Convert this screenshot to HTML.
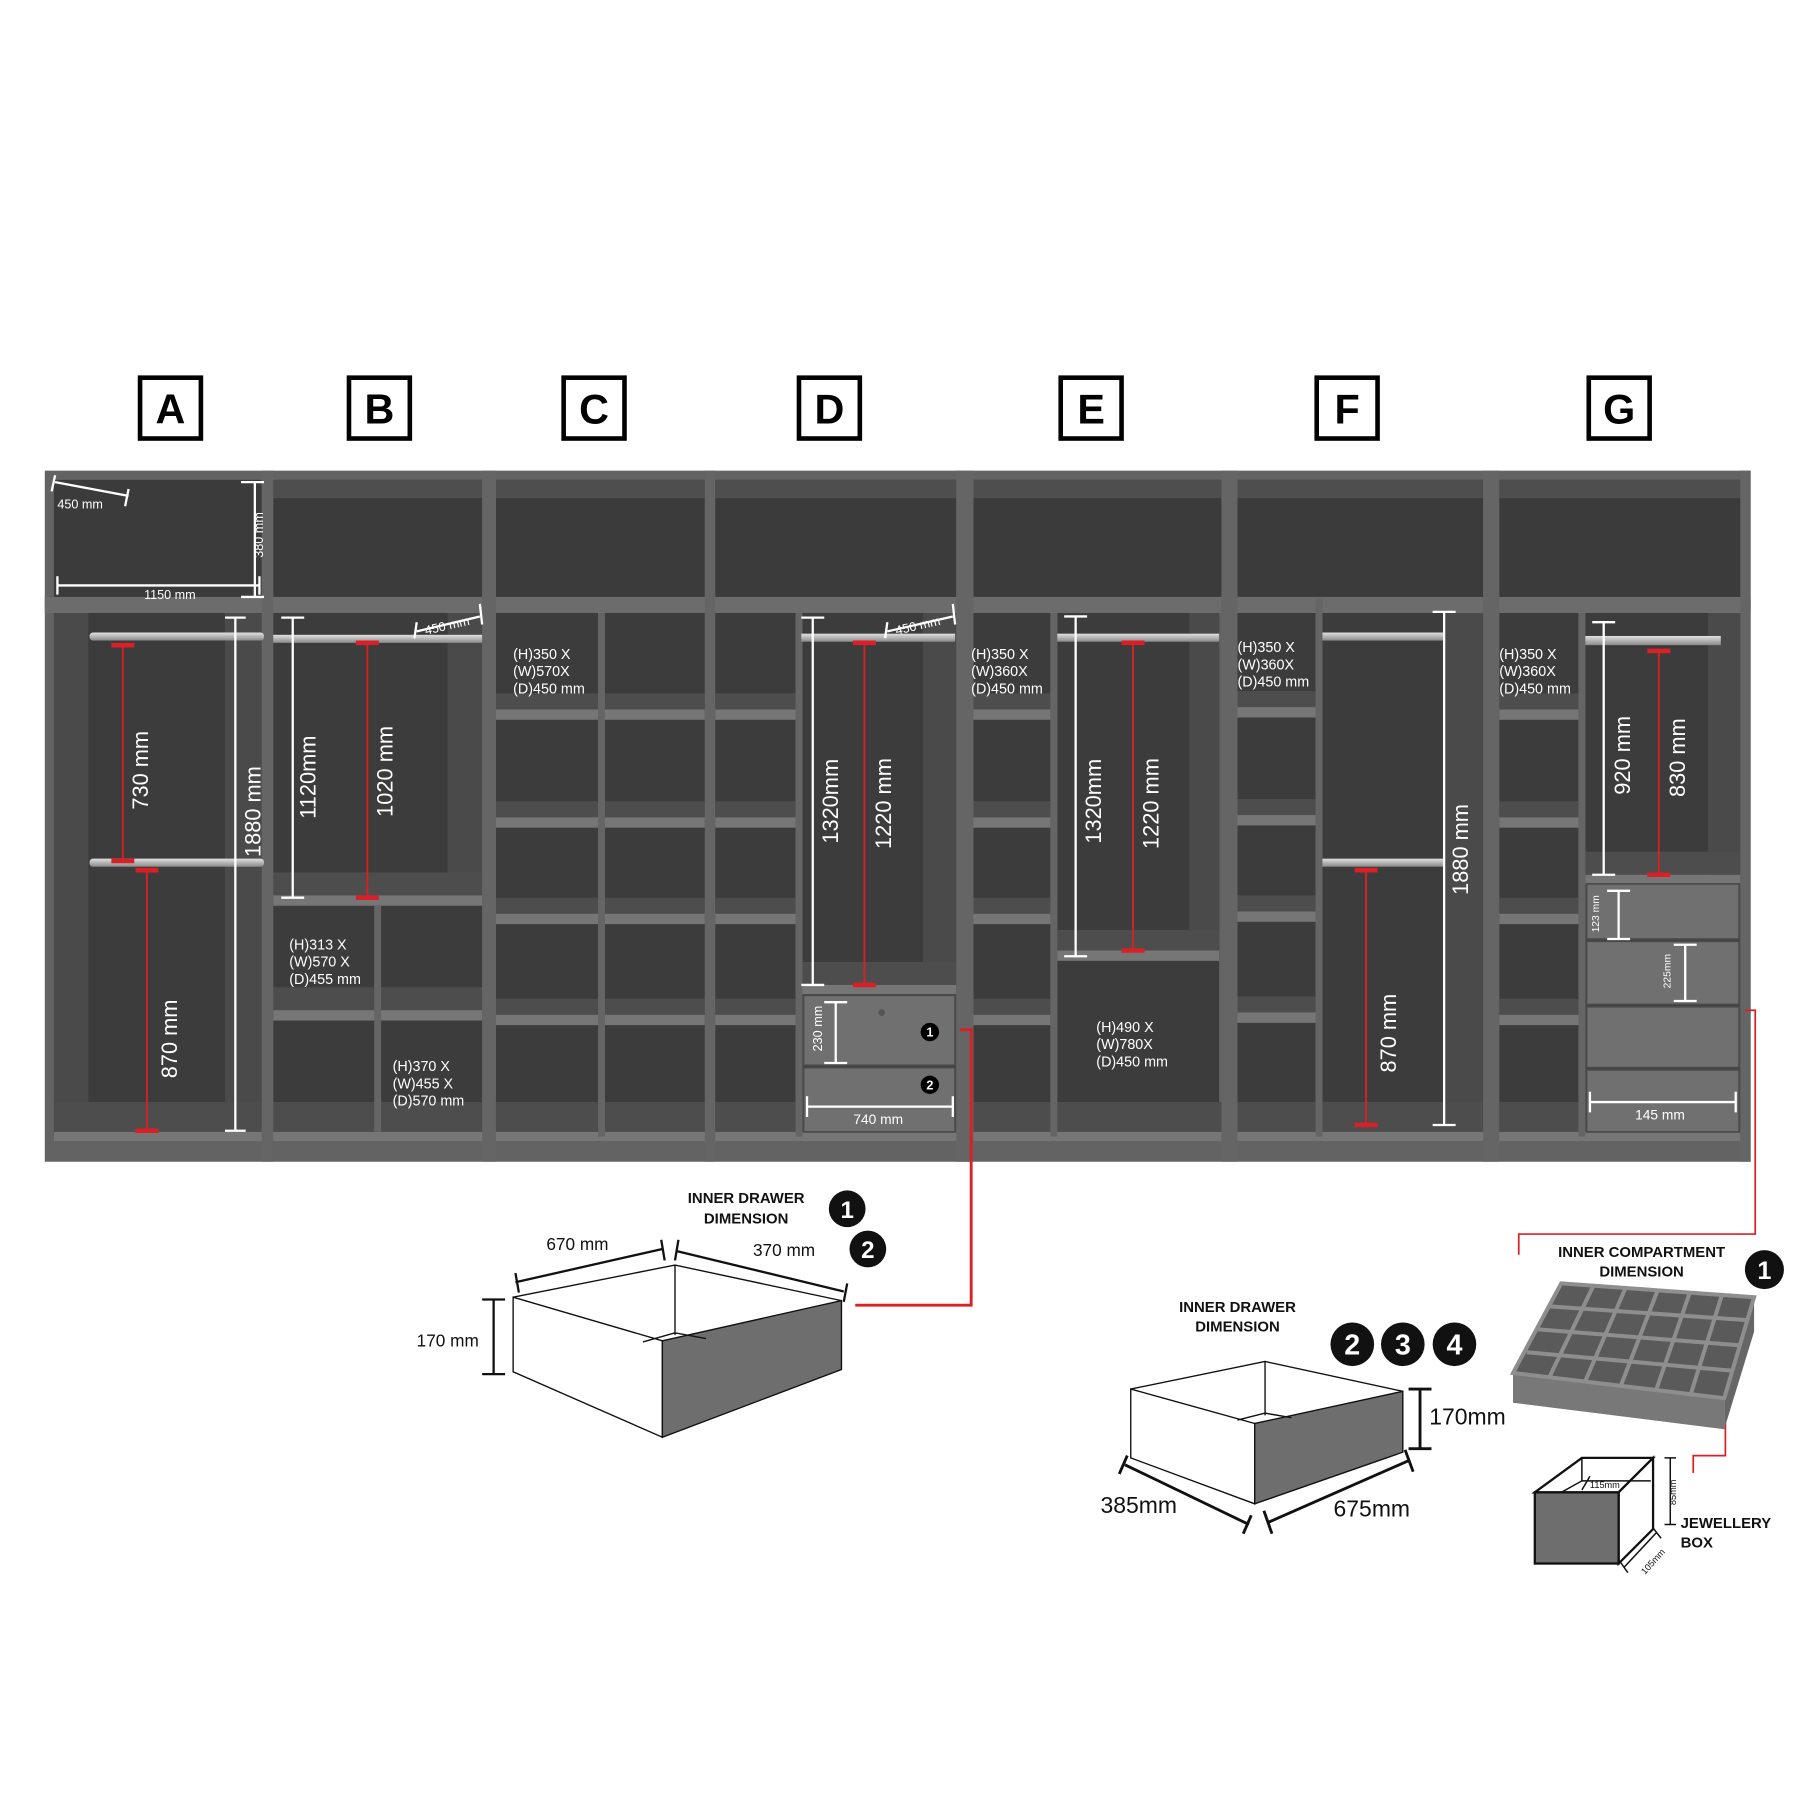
<!DOCTYPE html>
<html><head><meta charset="utf-8"><style>
html,body{margin:0;padding:0;background:#fff}
svg{display:block}
text{font-family:"Liberation Sans",sans-serif}
</style></head><body>
<svg width="1800" height="1800" viewBox="0 0 1568 1568" xmlns="http://www.w3.org/2000/svg">
<defs>
<linearGradient id="rail" x1="0" y1="0" x2="0" y2="1"><stop offset="0" stop-color="#e0e0e0"/><stop offset="1" stop-color="#8a8a8a"/></linearGradient>
</defs>
<rect width="1568" height="1568" fill="#fff"/>
<g fill="none" stroke="#000" stroke-width="4">
<rect x="122" y="329" width="53" height="53"/><rect x="304" y="329" width="53" height="53"/><rect x="491" y="329" width="53" height="53"/><rect x="696" y="329" width="53" height="53"/><rect x="924" y="329" width="53" height="53"/><rect x="1147" y="329" width="53" height="53"/><rect x="1384" y="329" width="53" height="53"/>
</g>
<g font-size="36" font-weight="bold" text-anchor="middle" fill="#000">
<text x="148.5" y="369">A</text><text x="330.5" y="369">B</text><text x="517.5" y="369">C</text><text x="722.5" y="369">D</text><text x="950.5" y="369">E</text><text x="1173.5" y="369">F</text><text x="1410.5" y="369">G</text>
</g>
<rect x="39" y="410" width="1486" height="602" fill="#636363"/>
<g fill="#3b3b3b">
<rect x="47" y="418" width="181" height="104"/><rect x="238" y="418" width="182" height="104"/><rect x="432" y="418" width="182" height="104"/><rect x="623" y="418" width="210" height="104"/><rect x="848" y="418" width="216" height="104"/><rect x="1078" y="418" width="214" height="104"/><rect x="1306" y="418" width="214" height="104"/>
</g>
<g fill="#4e4e4e">
<rect x="238" y="418" width="182" height="16"/><rect x="432" y="418" width="182" height="16"/><rect x="623" y="418" width="210" height="16"/><rect x="848" y="418" width="216" height="16"/><rect x="1078" y="418" width="214" height="16"/><rect x="1306" y="418" width="214" height="16"/>
</g>
<g fill="#3c3c3c">
<rect x="47" y="534" width="181" height="456"/><rect x="238" y="534" width="182" height="456"/>
<rect x="432" y="534" width="89" height="456"/><rect x="527" y="534" width="87" height="456"/>
<rect x="623" y="534" width="70" height="456"/><rect x="699" y="534" width="134" height="456"/>
<rect x="848" y="534" width="67" height="456"/><rect x="921" y="534" width="141" height="456"/>
<rect x="1078" y="530" width="68" height="460"/><rect x="1152" y="530" width="140" height="460"/>
<rect x="1306" y="534" width="69" height="456"/><rect x="1381" y="534" width="135" height="456"/>
</g>
<g fill="#4a4a4a">
<rect x="47" y="534" width="30" height="456"/><rect x="196" y="534" width="32" height="456"/>
<rect x="390" y="534" width="30" height="250"/><rect x="804" y="534" width="29" height="330"/>
<rect x="1036" y="534" width="26" height="300"/><rect x="1258" y="530" width="34" height="460"/>
<rect x="1488" y="534" width="28" height="230"/>
</g>
<rect x="39" y="520" width="1486" height="14" fill="#6c6c6c"/>
<g fill="#4d4d4d">
<rect x="432" y="604" width="182" height="14"/><rect x="432" y="698" width="182" height="14"/><rect x="432" y="782" width="182" height="14"/><rect x="432" y="870" width="182" height="14"/>
<rect x="623" y="604" width="70" height="14"/><rect x="623" y="698" width="70" height="14"/><rect x="623" y="782" width="70" height="14"/><rect x="623" y="870" width="70" height="14"/>
<rect x="848" y="604" width="67" height="14"/><rect x="848" y="698" width="67" height="14"/><rect x="848" y="782" width="67" height="14"/><rect x="848" y="870" width="67" height="14"/>
<rect x="1078" y="602" width="68" height="14"/><rect x="1078" y="696" width="68" height="14"/><rect x="1078" y="780" width="68" height="14"/><rect x="1078" y="868" width="68" height="14"/>
<rect x="1306" y="604" width="69" height="14"/><rect x="1306" y="698" width="69" height="14"/><rect x="1306" y="782" width="69" height="14"/><rect x="1306" y="870" width="69" height="14"/>
<rect x="47" y="960" width="1469" height="26"/>
<rect x="238" y="760" width="182" height="20"/><rect x="238" y="860" width="182" height="20"/>
<rect x="699" y="838" width="134" height="20"/><rect x="921" y="810" width="141" height="18"/><rect x="1381" y="742" width="135" height="20"/>
</g>
<g fill="#767676">
<rect x="432" y="618" width="182" height="9"/><rect x="432" y="712" width="182" height="9"/><rect x="432" y="796" width="182" height="9"/><rect x="432" y="884" width="182" height="9"/>
<rect x="623" y="618" width="70" height="9"/><rect x="623" y="712" width="70" height="9"/><rect x="623" y="796" width="70" height="9"/><rect x="623" y="884" width="70" height="9"/>
<rect x="848" y="618" width="67" height="9"/><rect x="848" y="712" width="67" height="9"/><rect x="848" y="796" width="67" height="9"/><rect x="848" y="884" width="67" height="9"/>
<rect x="1078" y="616" width="68" height="9"/><rect x="1078" y="710" width="68" height="9"/><rect x="1078" y="794" width="68" height="9"/><rect x="1078" y="882" width="68" height="9"/>
<rect x="1306" y="618" width="69" height="9"/><rect x="1306" y="712" width="69" height="9"/><rect x="1306" y="796" width="69" height="9"/><rect x="1306" y="884" width="69" height="9"/>
<rect x="238" y="780" width="182" height="9"/><rect x="238" y="880" width="182" height="9"/>
<rect x="699" y="858" width="134" height="8"/><rect x="921" y="828" width="141" height="9"/><rect x="1381" y="762" width="135" height="8"/>
<rect x="47" y="986" width="1469" height="8"/>
</g>
<g fill="#656565">
<rect x="326" y="789" width="6" height="197"/><rect x="521" y="534" width="6" height="456"/><rect x="693" y="534" width="6" height="456"/><rect x="915" y="534" width="6" height="456"/><rect x="1146" y="522" width="6" height="468"/><rect x="1375" y="534" width="6" height="456"/>
<rect x="228" y="410" width="10" height="602"/><rect x="420" y="410" width="12" height="602"/><rect x="614" y="410" width="9" height="602"/><rect x="833" y="410" width="15" height="602"/><rect x="1064" y="410" width="14" height="602"/><rect x="1292" y="410" width="14" height="602"/><rect x="1516" y="410" width="9" height="602"/>
</g>
<g fill="#707070" stroke="#4a4a4a" stroke-width="1.5">
<rect x="700" y="867" width="132" height="61"/><rect x="700" y="930" width="132" height="56"/>
<rect x="1382" y="770" width="133" height="48"/><rect x="1382" y="820" width="133" height="55"/><rect x="1382" y="877" width="133" height="53"/><rect x="1382" y="932" width="133" height="54"/>
</g>
<circle cx="768" cy="882" r="3" fill="#555"/>
<g fill="url(#rail)">
<rect x="78" y="551" width="152" height="7" rx="3"/><rect x="78" y="748" width="152" height="7" rx="3"/>
<rect x="238" y="553" width="182" height="7"/><rect x="698" y="552" width="134" height="7"/>
<rect x="921" y="552" width="141" height="7"/><rect x="1152" y="551" width="105" height="7"/><rect x="1152" y="748" width="105" height="7"/>
<rect x="1381" y="554" width="118" height="8"/>
</g>
<g stroke="#fff" fill="none">
<g stroke-width="2">
<path d="M48 420 L112 432 M48 414 L45 428 M112 426 L109 441"/>
<path d="M222 420 V520 M210 420 H230 M210 520 H230"/>
<path d="M50 510 H226 M50 502 V518 M226 502 V518"/>
<path d="M205 538 V985 M196 538 H214 M196 985 H214"/>
<path d="M255 538 V782 M245 538 H265 M245 782 H265"/>
<path d="M363 550 L418 537 M363 542 L361 556 M418 526 L420 544"/>
<path d="M708 538 V858 M698 538 H718 M698 858 H718"/>
<path d="M773 550 L830 537 M773 542 L771 556 M830 526 L832 544"/>
<path d="M728 873 V926 M718 873 H738 M718 926 H738"/>
<path d="M703 964 H830 M703 955 V973 M830 955 V973"/>
<path d="M937 537 V833 M927 537 H947 M927 833 H947"/>
<path d="M1258 533 V980 M1248 533 H1268 M1248 980 H1268"/>
<path d="M1397 542 V762 M1387 542 H1407 M1387 762 H1407"/>
<path d="M1410 776 V818 M1400 776 H1420 M1400 818 H1420"/>
<path d="M1468 823 V872 M1458 823 H1478 M1458 872 H1478"/>
<path d="M1385 960 H1512 M1385 951 V969 M1512 951 V969"/>
</g></g>
<g stroke="#d92027" fill="none">
<path stroke-width="1.6" d="M107 562 V750 M128 758 V985 M320 560 V782 M753 560 V858 M987 560 V828 M1190 758 V980 M1445 567 V762"/>
<path stroke-width="4" d="M97 562 H117 M97 750 H117 M118 758 H138 M118 985 H138 M310 560 H330 M310 782 H330 M743 560 H763 M743 858 H763 M977 560 H997 M977 828 H997 M1180 758 H1200 M1180 980 H1200 M1435 567 H1455 M1435 762 H1455"/>
<path stroke-width="2.5" d="M836 897 H846 V1137 H745"/>
<path stroke-width="1.5" d="M1520 880 H1529 V1075 H1323 V1093"/>
<path stroke-width="1.5" d="M1503 1195 V1268 H1475 V1283"/>
</g>
<g fill="#fff">
<text x="50" y="443" font-size="11">450 mm</text>
<text x="148" y="522" font-size="11" text-anchor="middle">1150 mm</text>
<text transform="translate(229,466) rotate(-90)" font-size="11" text-anchor="middle">380 mm</text>
<text transform="translate(129,671) rotate(-90)" font-size="19" text-anchor="middle">730 mm</text>
<text transform="translate(154,905) rotate(-90)" font-size="19" text-anchor="middle">870 mm</text>
<text transform="translate(227,707) rotate(-90)" font-size="19" text-anchor="middle">1880 mm</text>
<text transform="translate(275,677) rotate(-90)" font-size="19" text-anchor="middle">1120mm</text>
<text transform="translate(342,672) rotate(-90)" font-size="19" text-anchor="middle">1020 mm</text>
<text transform="translate(371,553) rotate(-13)" font-size="11">450 mm</text>
<text transform="translate(781,553) rotate(-13)" font-size="11">450 mm</text>
<g font-size="12.5">
<text x="252" y="827">(H)313 X</text><text x="252" y="842">(W)570 X</text><text x="252" y="857">(D)455 mm</text>
<text x="342" y="933">(H)370 X</text><text x="342" y="948">(W)455 X</text><text x="342" y="963">(D)570 mm</text>
<text x="447" y="574">(H)350 X</text><text x="447" y="589">(W)570X</text><text x="447" y="604">(D)450 mm</text>
<text x="846" y="574">(H)350 X</text><text x="846" y="589">(W)360X</text><text x="846" y="604">(D)450 mm</text>
<text x="1078" y="568">(H)350 X</text><text x="1078" y="583">(W)360X</text><text x="1078" y="598">(D)450 mm</text>
<text x="1306" y="574">(H)350 X</text><text x="1306" y="589">(W)360X</text><text x="1306" y="604">(D)450 mm</text>
<text x="955" y="899">(H)490 X</text><text x="955" y="914">(W)780X</text><text x="955" y="929">(D)450 mm</text>
</g>
<text transform="translate(730,698) rotate(-90)" font-size="19" text-anchor="middle">1320mm</text>
<text transform="translate(776,700) rotate(-90)" font-size="19" text-anchor="middle">1220 mm</text>
<text transform="translate(716,896) rotate(-90)" font-size="11" text-anchor="middle">230 mm</text>
<text x="765" y="979" font-size="12" text-anchor="middle">740 mm</text>
<text transform="translate(959,698) rotate(-90)" font-size="19" text-anchor="middle">1320mm</text>
<text transform="translate(1009,700) rotate(-90)" font-size="19" text-anchor="middle">1220 mm</text>
<text transform="translate(1279,740) rotate(-90)" font-size="19" text-anchor="middle">1880 mm</text>
<text transform="translate(1216,900) rotate(-90)" font-size="19" text-anchor="middle">870 mm</text>
<text transform="translate(1420,658) rotate(-90)" font-size="19" text-anchor="middle">920 mm</text>
<text transform="translate(1468,660) rotate(-90)" font-size="19" text-anchor="middle">830 mm</text>
<text transform="translate(1393,796) rotate(-90)" font-size="9" text-anchor="middle">123 mm</text>
<text transform="translate(1455,846) rotate(-90)" font-size="9" text-anchor="middle">225mm</text>
<text x="1446" y="975" font-size="12" text-anchor="middle">145 mm</text>
</g>
<g fill="#000"><circle cx="810" cy="899" r="8"/><circle cx="810" cy="945" r="8"/></g>
<g fill="#fff" font-size="11" font-weight="bold" text-anchor="middle"><text x="810" y="903">1</text><text x="810" y="949">2</text></g>
<polygon points="447,1130 577,1168 577,1252 447,1195" fill="#fff" stroke="#111" stroke-width="1.2"/>
<polygon points="577,1168 733,1133 733,1193 577,1252" fill="#6e6e6e" stroke="#111" stroke-width="1.2"/>
<path d="M447,1130 L588,1102 L733,1133 M588,1102 V1163 M560,1169 L588,1161 L615,1166" fill="none" stroke="#111" stroke-width="1.2"/>
<path d="M449,1117 L577,1088 M449,1109 L452,1126 M576,1080 L579,1098 M590,1090 L735,1125 M591,1080 L588,1098 M738,1118 L735,1134 M430,1132 V1197 M420,1132 H440 M420,1197 H440" stroke="#111" stroke-width="2" fill="none"/>
<g fill="#111"><text x="503" y="1089" font-size="15" text-anchor="middle">670 mm</text><text x="683" y="1094" font-size="15" text-anchor="middle">370 mm</text><text x="390" y="1173" font-size="15" text-anchor="middle">170 mm</text>
<text x="650" y="1048" font-size="13" font-weight="bold" text-anchor="middle">INNER DRAWER</text><text x="650" y="1066" font-size="13" font-weight="bold" text-anchor="middle">DIMENSION</text>
<circle cx="738" cy="1053" r="16"/><circle cx="756" cy="1088" r="16"/>
<text x="1078" y="1143" font-size="13" font-weight="bold" text-anchor="middle">INNER DRAWER</text><text x="1078" y="1160" font-size="13" font-weight="bold" text-anchor="middle">DIMENSION</text>
<circle cx="1178" cy="1171" r="19"/><circle cx="1222" cy="1171" r="19"/><circle cx="1267" cy="1171" r="19"/>
<text x="1430" y="1095" font-size="13" font-weight="bold" text-anchor="middle">INNER COMPARTMENT</text><text x="1430" y="1112" font-size="13" font-weight="bold" text-anchor="middle">DIMENSION</text>
<circle cx="1537" cy="1106" r="17"/>
<text x="1464" y="1331" font-size="13" font-weight="bold">JEWELLERY</text><text x="1464" y="1348" font-size="13" font-weight="bold">BOX</text>
</g>
<g fill="#fff" font-weight="bold" text-anchor="middle"><text x="738" y="1061" font-size="21">1</text><text x="756" y="1096" font-size="21">2</text>
<text x="1178" y="1180" font-size="25">2</text><text x="1222" y="1180" font-size="25">3</text><text x="1267" y="1180" font-size="25">4</text><text x="1537" y="1114" font-size="22">1</text></g>
<polygon points="985,1210 1093,1240 1093,1310 985,1270" fill="#fff" stroke="#111" stroke-width="1.2"/>
<polygon points="1093,1240 1222,1212 1222,1265 1093,1310" fill="#6e6e6e" stroke="#111" stroke-width="1.2"/>
<path d="M985,1210 L1102,1186 L1222,1212 M1102,1186 V1233 M1078,1237 L1102,1231 L1125,1235" fill="none" stroke="#111" stroke-width="1.2"/>
<path d="M1237,1210 V1262 M1227,1210 H1247 M1227,1262 H1247 M980,1276 L1088,1328 M975,1284 L982,1268 M1083,1336 L1090,1320 M1105,1326 L1228,1272 M1101,1316 L1108,1336 M1224,1263 L1231,1282" stroke="#111" stroke-width="2.5" fill="none"/>
<g fill="#111" font-size="20"><text x="1245" y="1241">170mm</text><text x="992" y="1318" text-anchor="middle">385mm</text><text x="1195" y="1321" text-anchor="middle">675mm</text></g>
<polygon points="1360,1118 1528,1130 1502,1218 1318,1196" fill="#5a5a5a"/>
<polygon points="1318,1196 1502,1218 1502,1245 1318,1222" fill="#787878"/>
<polygon points="1502,1218 1528,1130 1528,1160 1502,1245" fill="#666"/>
<g stroke="#8e8e8e" stroke-width="3.5" fill="none">
<path d="M1360,1118 L1528,1130 L1502,1218 L1318,1196 Z"/>
<path d="M1350,1138 L1522,1150 M1340,1158 L1516,1172 M1330,1178 L1508,1194"/>
<path d="M1388,1120 L1350,1199 M1416,1122 L1381,1203 M1444,1124 L1412,1207 M1472,1126 L1443,1210 M1500,1128 L1473,1214"/>
</g>
<polygon points="1337,1300 1378,1270 1440,1270 1410,1300" fill="#fff" stroke="#111" stroke-width="2"/>
<polygon points="1410,1300 1440,1270 1440,1332 1410,1362" fill="#fff" stroke="#111" stroke-width="2"/>
<rect x="1337" y="1300" width="73" height="62" fill="#6e6e6e" stroke="#111" stroke-width="2"/>
<path d="M1378,1270 V1290 L1360,1300 M1378,1290 L1438,1290 M1385,1286 L1378,1298 M1455,1270 V1328 M1450,1270 H1460 M1450,1328 H1460 M1415,1365 L1443,1335 M1411,1360 L1418,1370 M1440,1331 L1447,1340" stroke="#111" stroke-width="1.3" fill="none"/>
<g fill="#111" font-size="8"><text x="1385" y="1296">115mm</text><text transform="translate(1460,1300) rotate(-90)" text-anchor="middle">85mm</text><text transform="translate(1433,1372) rotate(-48)">105mm</text></g>
</svg>
</body></html>
